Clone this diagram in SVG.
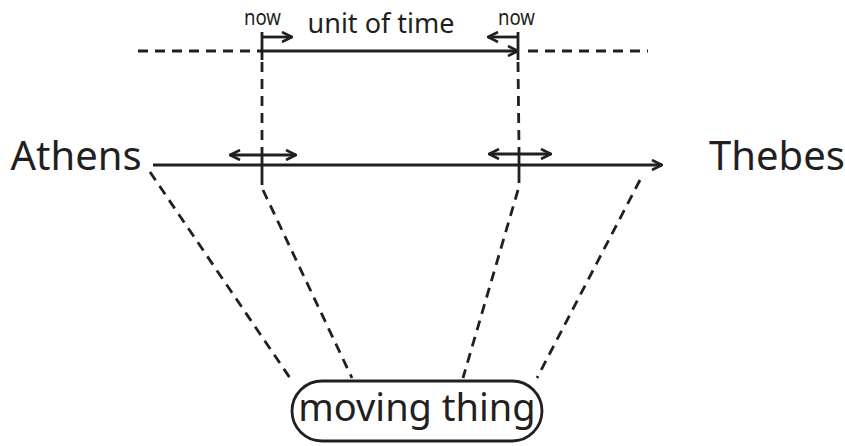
<svg xmlns="http://www.w3.org/2000/svg" width="845" height="446" viewBox="0 0 845 446">
<style>
.s{stroke:#231f20;stroke-width:2.8;fill:none;stroke-linecap:butt}
.d{stroke:#231f20;stroke-width:2.8;fill:none;stroke-dasharray:10 7}
.t{font-family:"Noto Sans","DejaVu Sans",sans-serif;fill:#231f20}
</style>
<defs>
<marker id="ah" viewBox="0 0 12 12" refX="11" refY="6" markerWidth="12" markerHeight="12" markerUnits="userSpaceOnUse" orient="auto-start-reverse">
<path d="M1,1 L11,6 L1,11" fill="none" stroke="#231f20" stroke-width="2.6"/>
</marker>
</defs>
<g id="connectors">
<line class="d" x1="138" y1="51" x2="262" y2="51"/>
<line class="d" x1="528" y1="51" x2="648" y2="51"/>
<line class="s" x1="262" y1="51" x2="518" y2="51" marker-end="url(#ah)"/>
<line class="s" x1="262" y1="32" x2="262" y2="60"/>
<line class="s" x1="518" y1="32" x2="518" y2="60"/>
<line class="s" x1="262" y1="37" x2="292" y2="37" marker-end="url(#ah)"/>
<line class="s" x1="518" y1="37" x2="488" y2="37" marker-end="url(#ah)"/>
<line class="d" x1="262" y1="62" x2="262" y2="148"/>
<line class="d" x1="518" y1="62" x2="519" y2="148"/>
<line class="s" x1="262" y1="148" x2="262" y2="185"/>
<line class="s" x1="519" y1="148" x2="519" y2="183"/>
<line class="s" x1="153" y1="165" x2="662" y2="165" marker-end="url(#ah)"/>
<line class="s" x1="230" y1="155" x2="296" y2="155" marker-start="url(#ah)" marker-end="url(#ah)"/>
<line class="s" x1="489" y1="154" x2="551" y2="154" marker-start="url(#ah)" marker-end="url(#ah)"/>
<line class="d" x1="150" y1="172" x2="290" y2="378"/>
<line class="d" x1="263" y1="190" x2="352" y2="378"/>
<line class="d" x1="518" y1="190" x2="463" y2="378"/>
<line class="d" x1="640" y1="180" x2="537" y2="378"/>
</g>
<g id="label-now-left"><text class="t" x="244" y="25" font-size="22" textLength="37" lengthAdjust="spacingAndGlyphs">now</text></g>
<g id="label-unit"><text class="t" x="381" y="33" font-size="27" text-anchor="middle">unit of time</text></g>
<g id="label-now-right"><text class="t" x="498" y="25" font-size="22" textLength="37" lengthAdjust="spacingAndGlyphs">now</text></g>
<g id="athens"><text class="t" x="76" y="170" font-size="40" text-anchor="middle">Athens</text></g>
<g id="thebes"><text class="t" x="777" y="170" font-size="40" text-anchor="middle">Thebes</text></g>
<g id="moving-thing">
<rect class="s" x="292" y="381" width="250" height="60" rx="30" ry="30"/>
<text class="t" x="417" y="421" font-size="38" text-anchor="middle">moving thing</text>
</g>
</svg>
